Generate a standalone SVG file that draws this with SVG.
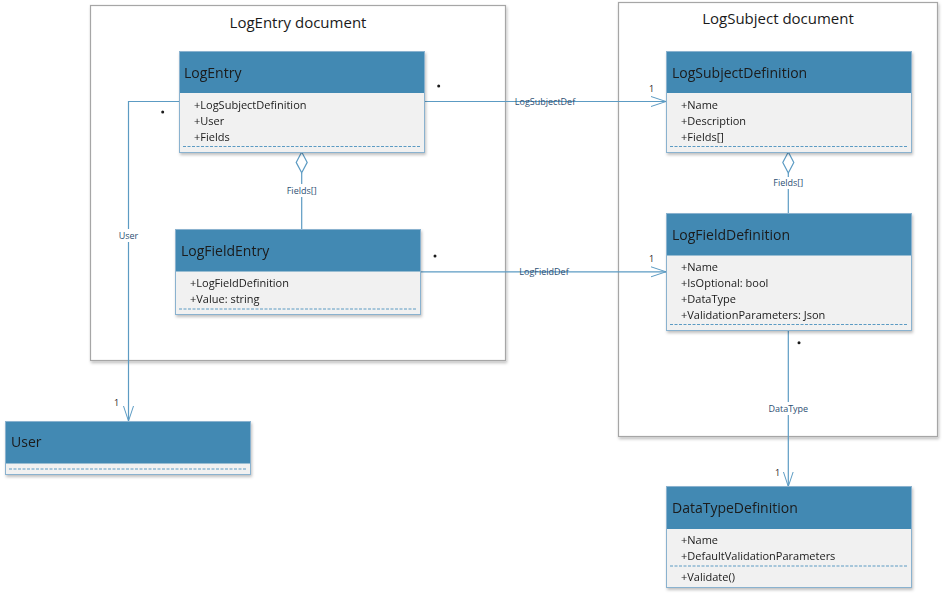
<svg xmlns="http://www.w3.org/2000/svg" width="943" height="602" viewBox="0 0 943 602">
<defs>
<filter id="sh" x="-5%" y="-5%" width="115%" height="125%">
<feDropShadow dx="1" dy="2" stdDeviation="1.5" flood-color="#000" flood-opacity="0.25"/>
</filter>
<marker id="open" markerWidth="16" markerHeight="12" refX="15" refY="6" orient="auto" markerUnits="userSpaceOnUse">
<path d="M0,1 L15,6 L0,11" fill="none" stroke="#5c9bc3" stroke-width="1"/>
</marker>
</defs>
<style>
.frame{fill:#fff;stroke:#a6a6a6;stroke-width:1.2}
.ftitle{font-family:"Open Sans","Liberation Sans",sans-serif;font-size:15px;fill:#1a1a1a;text-anchor:middle}
.body{fill:#f1f1f1;stroke:#8ab2cf;stroke-width:1}
.head{fill:#4389b3}
.cname{font-family:"Open Sans","Liberation Sans",sans-serif;font-size:14px;fill:#1a1a1a}
.attr{font-family:"Open Sans","Liberation Sans",sans-serif;font-size:11px;fill:#1a1a1a}
.dash{stroke:#5c9bc3;stroke-width:1;stroke-dasharray:3,1.5}
.conn{fill:none;stroke:#5c9bc3;stroke-width:1.2}
.lbl{font-family:"Open Sans","Liberation Sans",sans-serif;font-size:9px;fill:#2d4f73;text-anchor:middle}
.mult{font-family:"Open Sans","Liberation Sans",sans-serif;font-size:9px;fill:#1a1a1a}
.star{fill:#1a1a1a}
</style>

<g id="frame-logentry">
<rect class="frame" x="90.5" y="5.5" width="415" height="355" filter="url(#sh)"/>
<text class="ftitle" x="298" y="28">LogEntry document</text>
</g>
<g id="frame-logsubject">
<rect class="frame" x="618.5" y="2.5" width="319" height="434" filter="url(#sh)"/>
<text class="ftitle" x="778" y="24">LogSubject document</text>
</g>

<g id="connectors">
<!-- LogEntry -> LogSubjectDefinition -->
<line class="conn" x1="424" y1="101.5" x2="666" y2="101.5" marker-end="url(#open)"/>
<text class="lbl" x="545" y="105">LogSubjectDef</text>
<circle class="star" cx="438.7" cy="86" r="1.5"/>
<text class="mult" x="649" y="92">1</text>
<!-- LogFieldEntry -> LogFieldDefinition -->
<line class="conn" x1="421" y1="271.8" x2="666" y2="271.8" marker-end="url(#open)"/>
<text class="lbl" x="544" y="275">LogFieldDef</text>
<circle class="star" cx="435" cy="256" r="1.5"/>
<text class="mult" x="649" y="262">1</text>
<!-- LogEntry -> User -->
<path class="conn" d="M179,101.5 H128.5 V421" marker-end="url(#open)"/>
<rect x="116" y="229" width="25" height="13" fill="#fff"/>
<text class="lbl" x="128.5" y="239">User</text>
<circle class="star" cx="162.7" cy="112" r="1.5"/>
<text class="mult" x="114" y="406">1</text>
<!-- LogEntry <>- LogFieldEntry -->
<line class="conn" x1="301.7" y1="173" x2="301.7" y2="229"/>
<path d="M301.7,152 L307.2,162.4 L301.7,172.8 L296.2,162.4 Z" fill="#fff" stroke="#5c9bc3" stroke-width="1.2"/>
<rect x="284" y="184" width="36" height="13" fill="#fff"/>
<text class="lbl" x="301.7" y="194">Fields[]</text>
<!-- LogSubjectDefinition <>- LogFieldDefinition -->
<line class="conn" x1="788.3" y1="173" x2="788.3" y2="213"/>
<path d="M788.3,152 L793.8,162.5 L788.3,173 L782.8,162.5 Z" fill="#fff" stroke="#5c9bc3" stroke-width="1.2"/>
<rect x="771" y="177" width="36" height="12" fill="#fff"/>
<text class="lbl" x="788.3" y="186">Fields[]</text>
<!-- LogFieldDefinition -> DataTypeDefinition -->
<line class="conn" x1="788.3" y1="330" x2="788.3" y2="486.5" marker-end="url(#open)"/>
<rect x="767" y="402" width="43" height="13" fill="#fff"/>
<text class="lbl" x="788.3" y="412">DataType</text>
<circle class="star" cx="799" cy="342.7" r="1.5"/>
<text class="mult" x="775" y="476">1</text>
</g>

<g id="LogEntry" filter="url(#sh)">
<rect class="body" x="179.5" y="51.5" width="245" height="101"/>
<rect class="head" x="180" y="52" width="244" height="41"/>
<text class="cname" x="184" y="78">LogEntry</text>
<text class="attr" x="194" y="109">+LogSubjectDefinition</text>
<text class="attr" x="194" y="125">+User</text>
<text class="attr" x="194" y="141">+Fields</text>
<line class="dash" x1="183" y1="146.5" x2="421" y2="146.5"/>
</g>

<g id="LogFieldEntry" filter="url(#sh)">
<rect class="body" x="175.5" y="229.5" width="245" height="85"/>
<rect class="head" x="176" y="230" width="244" height="41.5"/>
<text class="cname" x="181" y="256">LogFieldEntry</text>
<text class="attr" x="190" y="287">+LogFieldDefinition</text>
<text class="attr" x="190" y="303">+Value: string</text>
<line class="dash" x1="179" y1="309" x2="417" y2="309"/>
</g>

<g id="User" filter="url(#sh)">
<rect class="body" x="5.5" y="421.5" width="245" height="53"/>
<rect class="head" x="6" y="422" width="244" height="41.5"/>
<text class="cname" x="11" y="447">User</text>
<line class="dash" x1="9" y1="469" x2="247" y2="469"/>
</g>

<g id="LogSubjectDefinition" filter="url(#sh)">
<rect class="body" x="666.5" y="51.5" width="245" height="101"/>
<rect class="head" x="667" y="52" width="244" height="41"/>
<text class="cname" x="672" y="78">LogSubjectDefinition</text>
<text class="attr" x="681" y="109">+Name</text>
<text class="attr" x="681" y="125">+Description</text>
<text class="attr" x="681" y="141">+Fields[]</text>
<line class="dash" x1="670" y1="146.5" x2="908" y2="146.5"/>
</g>

<g id="LogFieldDefinition" filter="url(#sh)">
<rect class="body" x="666.5" y="213.5" width="245" height="117"/>
<rect class="head" x="667" y="214" width="244" height="41.5"/>
<text class="cname" x="672" y="240">LogFieldDefinition</text>
<text class="attr" x="681" y="271">+Name</text>
<text class="attr" x="681" y="287">+IsOptional: bool</text>
<text class="attr" x="681" y="303">+DataType</text>
<text class="attr" x="681" y="319">+ValidationParameters: Json</text>
<line class="dash" x1="670" y1="324.5" x2="908" y2="324.5"/>
</g>

<g id="DataTypeDefinition" filter="url(#sh)">
<rect class="body" x="666.5" y="486.5" width="245" height="101"/>
<rect class="head" x="667" y="487" width="244" height="42"/>
<text class="cname" x="672" y="513">DataTypeDefinition</text>
<text class="attr" x="681" y="544">+Name</text>
<text class="attr" x="681" y="560">+DefaultValidationParameters</text>
<line class="dash" x1="670" y1="566" x2="908" y2="566"/>
<text class="attr" x="681" y="581">+Validate()</text>
</g>
</svg>
